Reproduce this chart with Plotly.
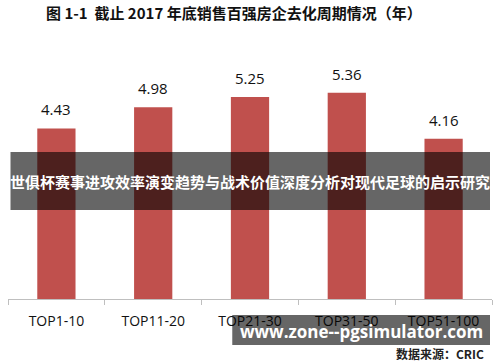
import plotly.graph_objects as go

categories = ["TOP1-10", "TOP11-20", "TOP21-30", "TOP31-50", "TOP51-100"]
values = [4.43, 4.98, 5.25, 5.36, 4.16]
labels = ["4.43", "4.98", "5.25", "5.36", "4.16"]

title_text = "图 1-1  截止 2017 年底销售百强房企去化周期情况（年）"
banner_text = "世俱杯赛事进攻效率演变趋势与战术价值深度分析对现代足球的启示研究"
watermark_text = "www.zone--pgsimulator.com"
source_text = "数据来源：CRIC"

W, H = 500, 362
L, R, T, B = 7.5, 8, 40, 63
pw, ph = W - L - R, H - T - B

def px(x):
    return (x - L) / pw

def py(y):
    return (H - B - y) / ph

fig = go.Figure()
fig.add_trace(go.Bar(
    x=categories, y=values, width=0.395,
    marker=dict(color="#C0504D", line=dict(width=0)),
    hoverinfo="skip",
))

annotations = []
for c, v, t in zip(categories, values, labels):
    annotations.append(dict(x=c, y=v, text=t, showarrow=False, yanchor="bottom",
                            yshift=7, font=dict(family="Open Sans", size=15, color="#111111")))

annotations.append(dict(xref="paper", yref="paper", x=px(234), y=py(13), text="<b>" + title_text + "</b>",
                        showarrow=False, xanchor="center", yanchor="middle",
                        font=dict(family="Noto Sans CJK SC", size=15, color="#111111")))
annotations.append(dict(xref="paper", yref="paper", x=px(250), y=py(181), text="<b>" + banner_text + "</b>",
                        showarrow=False, xanchor="center", yanchor="middle",
                        font=dict(family="Noto Sans CJK SC", size=15, color="#FFFFFF")))
annotations.append(dict(xref="paper", yref="paper", x=px(361), y=py(331), text="<b>" + watermark_text + "</b>",
                        showarrow=False, xanchor="center", yanchor="middle",
                        font=dict(family="Open Sans", size=17, color="#FFFFFF")))
annotations.append(dict(xref="paper", yref="paper", x=px(486), y=py(353), text="<b>" + source_text + "</b>",
                        showarrow=False, xanchor="right", yanchor="middle",
                        font=dict(family="Noto Sans CJK SC", size=12, color="#222222")))

shapes = [
    dict(type="rect", xref="paper", yref="paper", x0=px(10), x1=px(490), y0=py(210), y1=py(152),
         fillcolor="rgba(0,0,0,0.6)", line=dict(width=0), layer="above"),
    dict(type="rect", xref="paper", yref="paper", x0=px(232), x1=px(490), y0=py(345), y1=py(315),
         fillcolor="rgba(0,0,0,0.6)", line=dict(width=0), layer="above"),
]

fig.update_layout(
    width=W, height=H,
    margin=dict(l=L, r=R, t=T, b=B, pad=0, autoexpand=False),
    paper_bgcolor="white", plot_bgcolor="white",
    showlegend=False,
    bargap=0.6,
    xaxis=dict(showline=True, linecolor="#BFBFBF", linewidth=1, ticks="outside", ticklen=5,
               tickcolor="#BFBFBF", tickson="boundaries", showgrid=False, ticklabelstandoff=9,
               tickfont=dict(family="Open Sans", size=14, color="#111111")),
    yaxis=dict(range=[0, ph / 38.5], visible=False, showgrid=False, zeroline=False),
    annotations=annotations,
    shapes=shapes,
)

fig.write_html("out.html", config={"displayModeBar": False},
               post_script="document.body.style.margin='0';document.body.style.overflow='hidden';")
